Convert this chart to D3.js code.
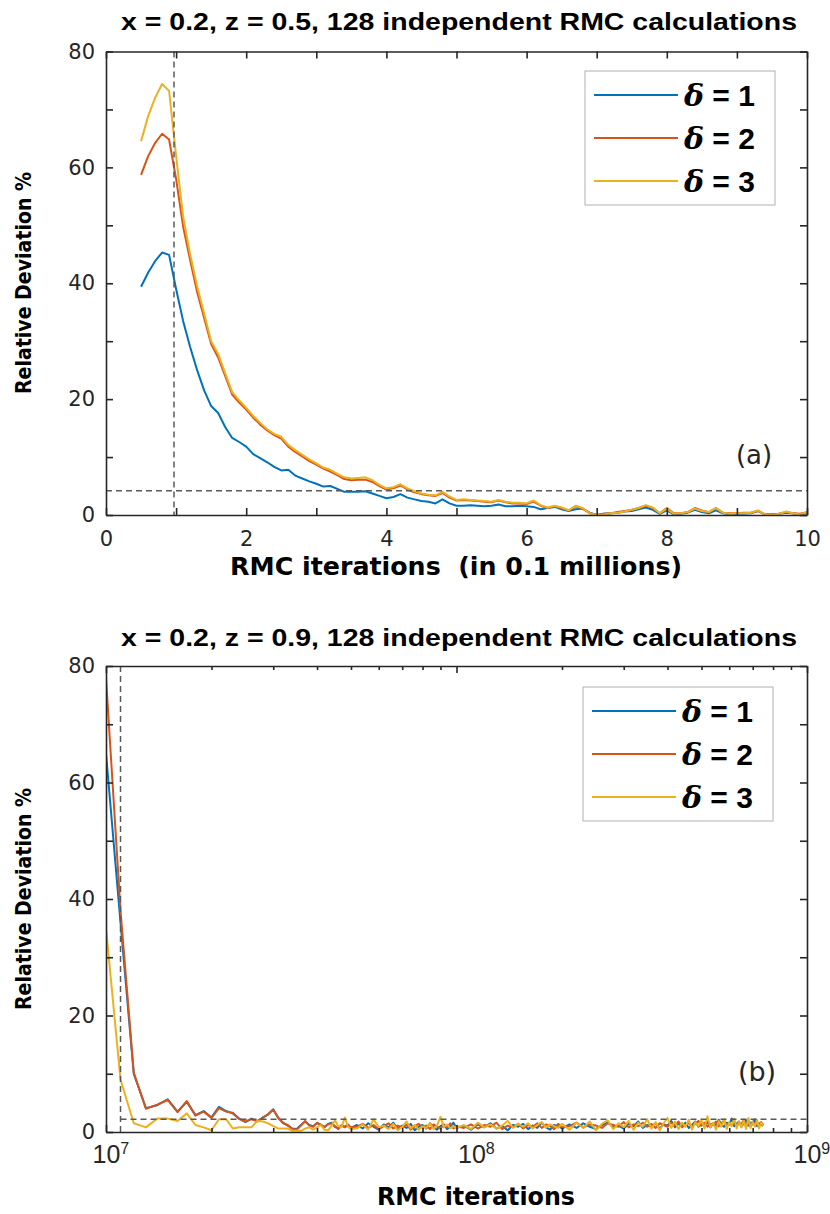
<!DOCTYPE html>
<html>
<head>
<meta charset="utf-8">
<script src="https://cdn.jsdelivr.net/npm/d3@7"></script>
<style>
  body { margin: 0; background: #fff; }
  .axis path, .axis line { stroke: #262626; stroke-width: 1.6; }
  .axis text { font-family: "DejaVu Sans", sans-serif; font-size: 21px; fill: #262626; }
  .axis.log text { font-family: "Liberation Sans", Arial, sans-serif; font-size: 25px; }
  .lbl { font-family: "DejaVu Sans", sans-serif; font-weight: bold; fill: #000; white-space: pre; }
  .ttl { font-family: "Liberation Sans", Arial, sans-serif; font-weight: bold; fill: #000; }
</style>
</head>
<body>
<div id="chart"></div>
<script>
// ---- panel (a): RMC iterations in 0.1 millions ----
var itersA = [0.5,0.6,0.7,0.8,0.9,1.0,1.1,1.2,1.3,1.4,1.5,1.6,1.7,1.8,1.9,2.0,2.1,2.2,2.3,2.4,
  2.5,2.6,2.7,2.8,2.9,3.0,3.1,3.2,3.3,3.4,3.5,3.6,3.7,3.8,3.9,4.0,4.1,4.2,4.3,4.4,
  4.5,4.6,4.7,4.8,4.9,5.0,5.1,5.2,5.3,5.4,5.5,5.6,5.7,5.8,5.9,6.0,6.1,6.2,6.3,6.4,
  6.5,6.6,6.7,6.8,6.9,7.0,7.1,7.2,7.3,7.4,7.5,7.6,7.7,7.8,7.9,8.0,8.1,8.2,8.3,8.4,
  8.5,8.6,8.7,8.8,8.9,9.0,9.1,9.2,9.3,9.4,9.5,9.6,9.7,9.8,9.9,10.0];

var dev1A = [39.4,41.8,43.8,45.3,44.9,39.0,33.5,29.0,25.0,21.5,
  18.8,17.6,15.2,13.3,12.6,11.8,10.5,9.8,9.1,8.3,
  7.7,7.8,6.8,6.3,5.8,5.4,4.9,5.0,4.5,4.0,
  4.0,4.0,4.1,3.7,3.3,2.9,3.1,3.6,3.0,2.7,
  2.4,2.3,2.0,2.7,2.0,1.6,1.6,1.7,1.6,1.5,
  1.6,1.8,1.5,1.5,1.6,1.5,1.4,1.0,1.2,1.4,
  1.0,0.7,1.0,1.1,0.4,0.0,0.2,0.3,0.4,0.6,
  0.7,1.0,1.3,0.9,0.2,0.8,0.1,0.2,0.4,0.9,
  0.5,0.3,0.8,0.3,0.1,0.2,0.2,0.3,0.7,0.1,
  0.1,0.2,0.4,0.3,0.1,0.3];

var dev2A = [58.7,61.9,64.2,65.8,64.8,58.0,49.8,44.0,38.5,34.0,
  29.5,27.2,24.0,20.8,19.4,18.2,16.8,15.6,14.6,13.8,
  13.2,11.8,10.9,10.1,9.3,8.7,8.0,7.5,6.9,6.2,
  6.0,6.1,6.1,5.7,5.0,4.4,4.6,5.1,4.4,3.9,
  3.6,3.4,3.3,3.8,3.0,2.5,2.6,2.5,2.4,2.3,
  2.2,2.5,2.2,2.0,2.0,1.9,2.3,1.6,1.2,1.5,
  1.2,0.8,1.5,1.1,0.3,0.0,0.2,0.3,0.5,0.7,
  0.9,1.2,1.6,1.2,0.3,1.2,0.3,0.3,0.5,1.2,
  0.8,0.5,1.2,0.4,0.3,0.3,0.4,0.4,0.7,0.1,
  0.1,0.2,0.5,0.3,0.2,0.5];

var dev3A = [64.5,68.8,72.0,74.4,73.2,62.0,51.5,45.0,39.5,34.8,
  30.0,27.8,24.5,21.2,19.8,18.5,17.1,15.9,14.8,14.0,
  13.5,12.1,11.2,10.4,9.6,8.9,8.2,7.8,7.1,6.5,
  6.3,6.4,6.5,6.0,5.2,4.6,4.8,5.3,4.6,4.1,
  3.7,3.5,3.4,4.0,3.2,2.6,2.7,2.6,2.5,2.4,
  2.3,2.6,2.3,2.1,2.1,2.0,2.5,1.7,1.3,1.6,
  1.3,0.8,1.6,1.2,0.3,0.0,0.1,0.3,0.4,0.6,
  0.9,1.2,1.7,1.3,0.3,1.1,0.2,0.3,0.5,1.1,
  0.7,0.5,1.2,0.4,0.2,0.3,0.3,0.4,0.8,0.1,
  0.0,0.2,0.6,0.3,0.1,0.5];

// ---- panel (b): RMC iterations in millions ----
var itersB = [10,11,12,13,14,15,16,17,18,19,20,21,22,23,24,25,26,27,28,29,30,
  31,32,33,34,35,36,37,38,39,40,41,42,43,44,45,46,47,48,49,50,
  52,54,56,58,60,62,64,66,68,70,72,74,76,78,80,82,84,86,88,90,92,94,96,98,100,
  105,110,115,120,125,130,135,140,145,150,155,160,165,170,175,180,185,190,195,200,
  210,220,230,240,250,260,270,280,290,300,310,320,330,340,350,360,370,380,390,400,
  410,420,430,440,450,460,470,480,490,500,510,520,530,540,550,560,570,580,590,600,
  610,620,630,640,650,660,670,680,690,700,710,720,730,740,750];

var dev1B = [65,36,10,4.1,4.6,5.6,3.5,5.2,2.9,3.6,2.5,4.3,3.6,3.2,2.3,1.7,2.3,1.8,2.5,3.0,
  3.9,2.4,1.6,1.1,0.6,0.5,1.2,1.8,1.2,1.0,1.5,1.3,0.8,1.4,1.6,0.9,0.6,1.1,0.9,1.3,0.7,
  1.2,0.6,1.5,0.9,0.4,1.3,0.8,1.6,0.5,1.1,0.7,1.4,0.3,0.9,1.2,0.6,1.5,0.8,0.4,1.0,1.3,0.5,0.9,1.6,0.7,
  1.1,0.4,1.3,0.8,1.5,0.6,1.0,0.3,1.2,0.9,1.4,0.5,1.1,0.7,1.6,0.8,0.4,1.2,1.0,0.6,
  1.3,0.7,1.5,0.9,0.5,1.2,1.7,0.8,1.1,0.6,1.4,1.0,1.8,0.7,1.2,0.9,1.5,0.6,1.3,1.1,
  1.9,0.8,1.4,1.0,1.6,0.7,1.2,1.8,0.9,1.3,1.1,1.7,0.8,1.5,1.0,2.1,1.2,0.9,1.6,1.3,
  2.3,1.0,1.4,1.8,0.9,1.5,2.0,1.1,1.6,1.3,2.2,1.0,1.5,1.2,1.1];

var dev2B = [78,38,10.2,4.0,4.7,5.5,3.4,5.3,2.8,3.5,2.4,4.1,3.5,3.3,2.2,1.8,2.2,1.9,2.4,3.1,
  3.8,2.5,1.5,1.2,0.5,0.4,1.1,1.9,1.1,0.9,1.6,1.2,0.9,1.3,1.5,1.0,0.5,1.2,0.8,1.2,0.8,
  0.9,1.4,0.7,1.2,0.5,1.0,1.5,0.6,1.1,0.8,1.3,0.4,1.0,1.4,0.7,1.1,0.5,1.3,0.9,0.6,1.2,0.8,1.5,0.6,1.0,
  0.7,1.3,0.6,1.2,0.9,1.6,0.5,1.1,0.8,1.4,0.6,1.2,0.9,1.5,0.7,1.3,1.0,0.5,1.4,0.8,
  1.0,1.6,0.8,1.3,1.1,0.7,1.5,1.2,0.9,1.7,0.8,1.3,1.0,1.6,0.9,1.4,0.7,1.5,1.2,0.9,
  1.6,1.1,1.8,0.8,1.3,1.5,1.0,1.4,1.9,1.1,1.6,0.9,1.4,1.2,1.8,1.0,1.5,2.0,1.1,1.4,
  1.2,1.7,1.0,1.5,1.3,2.1,1.2,1.6,1.0,1.8,1.3,1.5,1.1,1.7,1.2];

var dev3B = [35,9,1.5,0.8,2.3,2.3,1.9,3.2,1.2,0.8,0.3,2.2,2.2,0.6,0.8,0.8,0.8,1.9,1.8,1.5,
  1.0,0.6,0.6,0.6,0.2,0.2,0.2,0.6,0.8,0.4,0.8,1.2,0.4,0.3,1.0,2.0,1.0,0.8,2.5,0.9,0.5,
  0.6,1.3,0.4,2.2,0.8,1.1,0.5,1.4,0.3,0.9,1.8,0.6,1.2,0.4,1.0,0.7,1.5,0.5,1.1,2.6,0.8,1.3,0.6,1.0,0.7,
  1.2,0.5,1.6,0.8,1.3,0.6,1.1,1.9,0.7,1.4,0.9,1.5,0.6,1.2,1.7,0.8,1.3,1.0,0.7,1.4,
  0.4,1.6,0.7,1.8,0.3,1.4,2.0,0.5,1.5,0.8,1.9,0.4,1.6,0.9,2.2,0.6,1.7,0.3,1.5,2.4,
  0.7,1.8,0.5,1.6,0.9,2.1,0.4,1.7,1.0,2.0,0.6,2.7,0.8,1.6,0.4,1.9,0.9,2.2,0.5,1.7,
  1.0,2.3,0.6,1.8,0.8,2.0,0.5,2.4,0.7,1.7,0.9,2.1,0.6,1.6,1.0];

var deltas = ["1", "2", "3"];
var colors = ["#0072BD", "#D95319", "#EDB120"];
var yTicks = [0,10,20,30,40,50,60,70,80];
var xTicksA = [0,1,2,3,4,5,6,7,8,9,10];
var xMajorB = [1e7, 1e8, 1e9];
var xMinorB = [2e7,3e7,4e7,5e7,6e7,7e7,8e7,9e7,2e8,3e8,4e8,5e8,6e8,7e8,8e8,9e8];
var cutA = [0.97, 4.2];     // dashed guides (x, y)
var cutB = [1.1e7, 2.2];

var W = 830, H = 1214;
var left = 106, right = 807;

var svg = d3.select("#chart").append("svg")
    .attr("width", W)
    .attr("height", H);

function yAxes(g, y) {
  g.append("g")
    .attr("class", "axis")
    .attr("transform", "translate(" + left + ",0)")
    .call(d3.axisLeft(y).tickValues(yTicks).tickSizeInner(-7).tickSizeOuter(0).tickPadding(11)
      .tickFormat(function(d) { return d % 20 === 0 ? d : ""; }));
  g.append("g")
    .attr("class", "axis")
    .attr("transform", "translate(" + right + ",0)")
    .call(d3.axisRight(y).tickValues(yTicks).tickSizeInner(-7).tickSizeOuter(0).tickFormat(""));
}

function drawLines(g, id, x, y, xs, series, top, bottom) {
  g.append("clipPath").attr("id", id)
    .append("rect")
      .attr("x", left).attr("y", top)
      .attr("width", right - left).attr("height", bottom - top);
  var line = d3.line()
    .x(function(d) { return x(d[0]); })
    .y(function(d) { return y(d[1]); });
  series.forEach(function(vals, i) {
    g.append("path")
      .datum(xs.map(function(v, j) { return [v, vals[j]]; }))
      .attr("clip-path", "url(#" + id + ")")
      .attr("fill", "none")
      .attr("stroke", colors[i])
      .attr("stroke-width", 2)
      .attr("stroke-linejoin", "round")
      .attr("d", line);
  });
}

function dashed(g, x1, y1, x2, y2) {
  g.append("line")
    .attr("x1", x1).attr("y1", y1).attr("x2", x2).attr("y2", y2)
    .attr("stroke", "#5a5a5a")
    .attr("stroke-width", 1.5)
    .attr("stroke-dasharray", "6,4");
}

function legend(g, x0, y0) {
  g.append("rect")
    .attr("x", x0).attr("y", y0)
    .attr("width", 190).attr("height", 134)
    .attr("fill", "#fff")
    .attr("stroke", "#b0b0b0")
    .attr("stroke-width", 1);
  deltas.forEach(function(d, i) {
    var ry = y0 + 24 + i * 43;
    g.append("line")
      .attr("x1", x0 + 9).attr("x2", x0 + 93)
      .attr("y1", ry).attr("y2", ry)
      .attr("stroke", colors[i]).attr("stroke-width", 2);
    var t = g.append("text")
      .attr("class", "ttl")
      .attr("x", x0 + 99).attr("y", ry + 11)
      .style("font-size", "30px");
    t.append("tspan")
      .style("font-family", "'DejaVu Serif', serif")
      .style("font-style", "italic")
      .text("\u03B4");
    t.append("tspan").text(" = " + d);
  });
}

function title(g, txt, base) {
  g.append("text")
    .attr("class", "ttl")
    .attr("x", 121).attr("y", base)
    .attr("textLength", 676)
    .attr("lengthAdjust", "spacingAndGlyphs")
    .style("font-size", "24px")
    .text(txt);
}

function yLabel(g, cy) {
  g.append("text")
    .attr("class", "lbl")
    .attr("transform", "translate(31," + cy + ") rotate(-90)")
    .attr("text-anchor", "middle")
    .attr("textLength", 222)
    .attr("lengthAdjust", "spacingAndGlyphs")
    .style("font-size", "22px")
    .text("Relative Deviation %");
}

// ================= panel (a) =================
var topA = 51.5, botA = 515;
var gA = svg.append("g");
var xA = d3.scaleLinear().domain([0, 10]).range([left, right]);
var yA = d3.scaleLinear().domain([0, 80]).range([botA, topA]);

drawLines(gA, "clipA", xA, yA, itersA, [dev1A, dev2A, dev3A], topA, botA);

dashed(gA, xA(cutA[0]), topA, xA(cutA[0]), botA);
dashed(gA, left, yA(cutA[1]), right, yA(cutA[1]));

gA.append("g")
  .attr("class", "axis")
  .attr("transform", "translate(0," + botA + ")")
  .call(d3.axisBottom(xA).tickValues(xTicksA).tickSizeInner(-7).tickSizeOuter(0).tickPadding(16)
    .tickFormat(function(d) { return d % 2 === 0 ? d : ""; }));
gA.append("g")
  .attr("class", "axis")
  .attr("transform", "translate(0," + topA + ")")
  .call(d3.axisTop(xA).tickValues(xTicksA).tickSizeInner(-7).tickSizeOuter(0).tickFormat(""));
yAxes(gA, yA);

title(gA, "x = 0.2, z = 0.5, 128 independent RMC calculations", 30);
yLabel(gA, 283);
gA.append("text")
  .attr("class", "lbl")
  .attr("x", 456).attr("y", 575)
  .attr("text-anchor", "middle")
  .attr("textLength", 452)
  .attr("lengthAdjust", "spacingAndGlyphs")
  .style("font-size", "24px")
  .text("RMC iterations  (in 0.1 millions)");
gA.append("text")
  .attr("x", 754).attr("y", 464)
  .attr("text-anchor", "middle")
  .style("font-family", "'DejaVu Sans', sans-serif")
  .style("font-size", "26px")
  .attr("fill", "#262626")
  .text("(a)");
legend(gA, 585, 71);

// ================= panel (b) =================
var topB = 666, botB = 1132;
var gB = svg.append("g");
var xB = d3.scaleLog().domain([1e7, 1e9]).range([left, right]);
var yB = d3.scaleLinear().domain([0, 80]).range([botB, topB]);

drawLines(gB, "clipB", xB, yB, itersB.map(function(m) { return m * 1e6; }),
  [dev1B, dev2B, dev3B], topB, botB);

dashed(gB, xB(cutB[0]), topB, xB(cutB[0]), botB);
dashed(gB, xB(cutB[0]), yB(cutB[1]), right, yB(cutB[1]));

var gxB = gB.append("g")
  .attr("class", "axis log")
  .attr("transform", "translate(0," + botB + ")")
  .call(d3.axisBottom(xB).tickValues(xMajorB).tickSizeInner(-7).tickSizeOuter(0).tickPadding(13));
gxB.selectAll(".tick text").each(function(d) {
  // the "10" part sits centred on the tick, exponent hangs to the right
  var t = d3.select(this).text("")
    .attr("text-anchor", "start")
    .attr("x", d === 1e8 ? 1 : -14);
  t.append("tspan").text("10");
  t.append("tspan").attr("dy", "-0.55em").style("font-size", "16px")
    .text(Math.round(Math.log10(d)));
});
gB.append("g")
  .attr("class", "axis")
  .attr("transform", "translate(0," + botB + ")")
  .call(d3.axisBottom(xB).tickValues(xMinorB).tickSizeInner(-4).tickSizeOuter(0).tickFormat(""))
  .select(".domain").remove();
gB.append("g")
  .attr("class", "axis")
  .attr("transform", "translate(0," + topB + ")")
  .call(d3.axisTop(xB).tickValues(xMajorB).tickSizeInner(-7).tickSizeOuter(0).tickFormat(""));
gB.append("g")
  .attr("class", "axis")
  .attr("transform", "translate(0," + topB + ")")
  .call(d3.axisTop(xB).tickValues(xMinorB).tickSizeInner(-4).tickSizeOuter(0).tickFormat(""))
  .select(".domain").remove();
yAxes(gB, yB);

title(gB, "x = 0.2, z = 0.9, 128 independent RMC calculations", 646);
yLabel(gB, 899);
gB.append("text")
  .attr("class", "lbl")
  .attr("x", 476).attr("y", 1205)
  .attr("text-anchor", "middle")
  .attr("textLength", 198)
  .attr("lengthAdjust", "spacingAndGlyphs")
  .style("font-size", "24px")
  .text("RMC iterations");
gB.append("text")
  .attr("x", 757).attr("y", 1081)
  .attr("text-anchor", "middle")
  .style("font-family", "'DejaVu Sans', sans-serif")
  .style("font-size", "27px")
  .attr("fill", "#262626")
  .text("(b)");
legend(gB, 583, 687);
</script>
</body>
</html>
